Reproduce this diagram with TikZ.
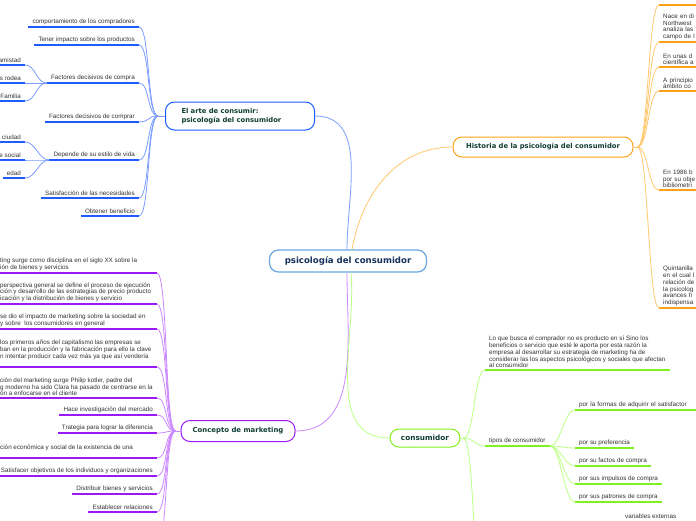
\documentclass[tikz,border=0pt]{standalone}
\usepackage{fontspec}
\setmainfont{Liberation Sans}
\newfontfamily\titlefont{DejaVu Sans}
\usepackage{tikz}
\usetikzlibrary{shapes,arrows,positioning}

\definecolor{centblue}{HTML}{6AA6E0}
\definecolor{centtext}{HTML}{16325C}
\definecolor{titlegreen}{HTML}{0F3D33}
\definecolor{leafgray}{HTML}{333333}
\definecolor{bluemain}{HTML}{1F5CFF}
\definecolor{bluelight}{HTML}{7A9CFF}
\definecolor{orangemain}{HTML}{FFA21B}
\definecolor{orangelight}{HTML}{FFC86E}
\definecolor{purplemain}{HTML}{9B19F5}
\definecolor{purplelight}{HTML}{CC88FF}
\definecolor{greenmain}{HTML}{80F020}
\definecolor{greenlight}{HTML}{BBFF85}

\begin{document}
\begin{tikzpicture}[x=1pt,y=-1pt,
	leaf/.style={font=\fontsize{6.3}{6.7}\selectfont, text=leafgray, inner xsep=4pt, inner ysep=2pt},
	topic/.style={draw, line width=1pt, rounded corners=9pt, fill=white, font=\titlefont\bfseries\fontsize{6.8}{8.5}\selectfont, text=titlegreen},
	bline/.style={draw=bluemain, line width=1.4pt},
	oline/.style={draw=orangemain, line width=1.4pt},
	pline/.style={draw=purplemain, line width=1.4pt},
	gline/.style={draw=greenmain, line width=1.4pt},
	bcon/.style={draw=bluelight, line width=0.8pt},
	ocon/.style={draw=orangelight, line width=0.8pt},
	pcon/.style={draw=purplelight, line width=0.8pt},
	gcon/.style={draw=greenlight, line width=0.8pt},
	bleaf/.style={leaf, anchor=south east, append after command={(\tikzlastnode.south west) edge[bline] (\tikzlastnode.south east)}},
	oleaf/.style={leaf, anchor=south west, text width=60pt, align=left, append after command={(\tikzlastnode.south west) edge[oline] (\tikzlastnode.south east)}},
	pleaf/.style={leaf, anchor=south east, append after command={(\tikzlastnode.south west) edge[pline] (\tikzlastnode.south east)}},
	pcut/.style={leaf, anchor=south west, align=left, append after command={(\tikzlastnode.south west) edge[pline] (\tikzlastnode.south west -| pX)}},
	gleaf/.style={leaf, anchor=south west, align=left, append after command={(\tikzlastnode.south west) edge[gline] (\tikzlastnode.south east)}},
	lft/.style={out=180, in=0, distance=11pt},
	rgt/.style={out=0, in=180, distance=11pt}]
	\useasboundingbox (0,0) rectangle (696,520);
	\clip (0,0) rectangle (696,520);
	\fill[white] (0,0) rectangle (696,520);

	% centre and main topics
	\node[draw=centblue, line width=1.2pt, rounded corners=9pt, fill=white, minimum width=157pt, minimum height=22pt, font=\titlefont\bfseries\fontsize{8.6}{10}\selectfont, text=centtext] (psico) at (348,261) {psicología del consumidor};
	\node[topic, draw=bluemain, text width=117pt, align=left, inner xsep=16pt, minimum height=28pt] (arte) at (240,116) {El arte de consumir:\\psicología del consumidor};
	\node[topic, draw=orangemain, minimum width=180pt, minimum height=20pt] (hist) at (543,147) {Historia de la psicología del consumidor};
	\node[topic, draw=purplemain, minimum width=114pt, minimum height=21pt, font=\titlefont\bfseries\fontsize{6.9}{8.5}\selectfont] (mkt) at (238,431) {Concepto de marketing};
	\node[topic, draw=greenmain, minimum width=70pt, minimum height=18pt, font=\titlefont\bfseries\fontsize{7.3}{9}\selectfont] (cons) at (425,438) {consumidor};

	\draw[bcon] ([xshift=-1pt]psico.north) to[out=90, in=0] (arte.east);
	\draw[ocon] ([xshift=4pt]psico.north) to[out=80, in=180] (hist.west);
	\draw[pcon] ([xshift=-1pt]psico.south) to[out=-90, in=0] (mkt.east);
	\draw[gcon] ([xshift=3pt]psico.south) to[out=-85, in=180] (cons.west);

	% el arte de consumir
	\coordinate (arteJ) at ([xshift=-7pt]arte.west);
	\node[bleaf] (b1) at (139,27) {comportamiento de los compradores};
	\node[bleaf] (b2) at (139,45) {Tener impacto sobre los productos};
	\node[bleaf] (b3) at (139,83) {Factores decisivos de compra};
	\node[bleaf] (b4) at (139,122) {Factores decisivos de comprar};
	\node[bleaf] (b5) at (139,160) {Depende de su estilo de vida};
	\node[bleaf] (b6) at (139,198) {Satisfacción de las necesidades};
	\node[bleaf] (b7) at (139,216) {Obtener beneficio};
	\node[bleaf] (s1) at (25,65) {amistad};
	\node[bleaf] (s2) at (25,83) {s rodea};
	\node[bleaf] (s3) at (25,101) {Familia};
	\node[bleaf] (s4) at (25,142) {ciudad};
	\node[bleaf] (s5) at (25,160) {e social};
	\node[bleaf] (s6) at (25,178) {edad};
	\draw[bcon] (arte.west) -- (arteJ);
	\draw[bcon] (arteJ) to[lft] (b1.south east);
	\draw[bcon] (arteJ) to[lft] (b2.south east);
	\draw[bcon] (arteJ) to[lft] (b3.south east);
	\draw[bcon] (arteJ) to[lft] (b4.south east);
	\draw[bcon] (arteJ) to[lft] (b5.south east);
	\draw[bcon] (arteJ) to[lft] (b6.south east);
	\draw[bcon] (arteJ) to[lft] (b7.south east);
	\draw[bcon] (b3.south west) to[lft] (s1.south east);
	\draw[bcon] (b3.south west) to[lft] (s2.south east);
	\draw[bcon] (b3.south west) to[lft] (s3.south east);
	\draw[bcon] (b5.south west) to[lft] (s4.south east);
	\draw[bcon] (b5.south west) to[lft] (s5.south east);
	\draw[bcon] (b5.south west) to[lft] (s6.south east);

	% historia
	\coordinate (histJ) at ([xshift=4pt]hist.east);
	\coordinate (o0) at (659,5);
	\node[oleaf] (o1) at (659,42) {Nace en di\\Northwest\\analiza las\\campo de l};
	\node[oleaf] (o2) at (659,67) {En unas d\\científica a};
	\node[oleaf] (o3) at (659,91) {A principio\\ámbito co};
	\node[oleaf] (o4) at (659,190) {En 1986 b\\por su obje\\bibliometri};
	\node[oleaf] (o5) at (659,308) {Quintanilla\\en el cual l\\relación de\\la psicolog\\avances h\\indispensa};
	\draw[oline] (o0) -- ++(60,0);
	\draw[ocon] (hist.east) -- (histJ);
	\draw[ocon] (histJ) to[rgt] (o0);
	\draw[ocon] (histJ) to[rgt] (o1.south west);
	\draw[ocon] (histJ) to[rgt] (o2.south west);
	\draw[ocon] (histJ) to[rgt] (o3.south west);
	\draw[ocon] (histJ) to[rgt] (o4.south west);
	\draw[ocon] (histJ) to[rgt] (o5.south west);

	% concepto de marketing
	\coordinate (pJ) at ([xshift=-5pt]mkt.west);
	\coordinate (pX) at (157,0);
	\coordinate (pEnd) at (157,545);
	\node[pcut] (p1) at (-4,273) {ting surge como disciplina en el siglo XX sobre la\\ión de bienes y servicios};
	\node[pcut] (p2) at (-4,304) {perspectiva general se define el proceso de ejecución\\ción y desarrollo de las estrategias de precio producto\\icación y la distribución de bienes y servicio};
	\node[pcut] (p3) at (-4,329) {se dio el impacto de marketing sobre la sociedad en\\y sobre\ \ los consumidores en general};
	\node[pcut] (p4) at (-4,367) {los primeros años del capitalismo las empresas se\\ban en la producción y la fabricación para ello la clave\\n intentar producir cada vez más ya que así vendería\\~};
	\node[pcut] (p5) at (-4,398) {ción del marketing surge Philip kotler, padre del\\g moderno ha sido Clara ha pasado de centrarse en la\\ón a enfocarse en el cliente};
	\node[pleaf] (p6) at (157,415) {Hace investigación del mercado};
	\node[pleaf] (p7) at (157,433) {Trategia para lograr la diferencia};
	\node[pcut] (p8) at (-4,458) {ción económica y social de la existencia de una\\~};
	\node[pleaf] (p9) at (157,476) {Satisfacer objetivos de los individuos y organizaciones};
	\node[pleaf] (p10) at (157,494) {Distribuir bienes y servicios};
	\node[pleaf] (p11) at (157,512) {Establecer relaciones};
	\draw[pcon] (mkt.west) -- (pJ);
	\draw[pcon] (pJ) to[lft] (p1.south west -| pX);
	\draw[pcon] (pJ) to[lft] (p2.south west -| pX);
	\draw[pcon] (pJ) to[lft] (p3.south west -| pX);
	\draw[pcon] (pJ) to[lft] (p4.south west -| pX);
	\draw[pcon] (pJ) to[lft] (p5.south west -| pX);
	\draw[pcon] (pJ) to[lft] (p6.south east);
	\draw[pcon] (pJ) to[lft] (p7.south east);
	\draw[pcon] (pJ) to[lft] (p8.south west -| pX);
	\draw[pcon] (pJ) to[lft] (p9.south east);
	\draw[pcon] (pJ) to[lft] (p10.south east);
	\draw[pcon] (pJ) to[lft] (p11.south east);
	\draw[pcon] (pJ) to[lft] (pEnd);

	% consumidor
	\coordinate (consJ) at ([xshift=3pt]cons.east);
	\coordinate (gEnd) at (484,600);
	\node[gleaf] (g1) at (485,370) {Lo que busca el comprador no es producto en sí Sino los\\beneficios o servicio que esté le aporta por esta razón la\\empresa al desarrollar su estrategia de marketing ha de\\considerar las los aspectos psicológicos y sociales que afectan\\al consumidor};
	\node[gleaf] (g2) at (485,446) {tipos de consumidor};
	\node[gleaf, text width=125pt] (t1) at (575,410) {por la formas de adquirir el satisfactor};
	\node[gleaf] (t2) at (575,448) {por su preferencia};
	\node[gleaf] (t3) at (575,466) {por su factos de compra};
	\node[gleaf] (t4) at (575,484) {por sus impulsos de compra};
	\node[gleaf] (t5) at (575,502) {por sus patrones de compra};
	\node[leaf, anchor=south west] (v1) at (621,521) {variables externas};
	\draw[gcon] (cons.east) -- (consJ);
	\draw[gcon] (consJ) to[rgt] (g1.south west);
	\draw[gcon] (consJ) to[rgt] (g2.south west);
	\draw[gcon] (consJ) to[rgt] (gEnd);
	\draw[gcon] (g2.south east) to[rgt] (t1.south west);
	\draw[gcon] (g2.south east) to[rgt] (t2.south west);
	\draw[gcon] (g2.south east) to[rgt] (t3.south west);
	\draw[gcon] (g2.south east) to[rgt] (t4.south west);
	\draw[gcon] (g2.south east) to[rgt] (t5.south west);
\end{tikzpicture}
\end{document}
